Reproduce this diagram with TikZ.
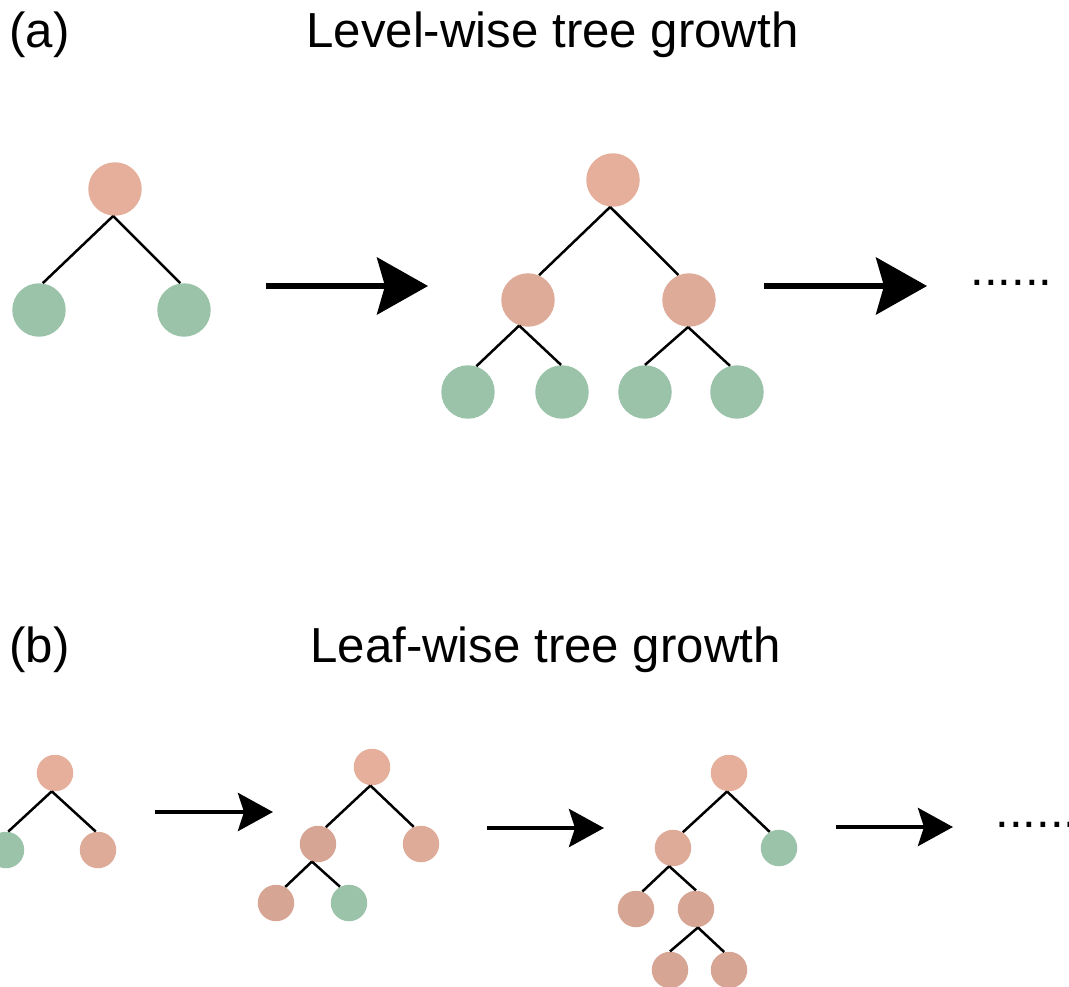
\documentclass[tikz,border=0pt]{standalone}
\usepackage{fontspec}
\setmainfont{Liberation Sans}
\usetikzlibrary{arrows.meta}
\definecolor{rootpink}{HTML}{E5AF9C}
\definecolor{midpink}{HTML}{DFAB99}
\definecolor{deeppink}{HTML}{D7A594}
\definecolor{leafgreen}{HTML}{9BC3AA}
\begin{document}
\begin{tikzpicture}[x=0.02cm, y=-0.02cm,
    big/.style={circle, inner sep=0pt, minimum size=1.07cm},
    small/.style={circle, inner sep=0pt, minimum size=0.73cm},
    edge/.style={line width=0.05cm},
    bigarrow/.style={line width=0.11cm, -{Stealth[length=1.02cm, width=1.14cm, inset=0.16cm]}},
    smallarrow/.style={line width=0.09cm, -{Stealth[length=0.7cm, width=0.76cm, inset=0.12cm]}},
    heading/.style={anchor=base west, inner sep=0pt, font=\fontsize{28}{34}\selectfont}]
    \useasboundingbox (0,0) rectangle (1069,987);

    % (a) level-wise
    \path (9, 48)    node[heading] (ta) {(a)};
    \path (306, 48)  node[heading] (tla) {Level-wise tree growth};

    \path (115, 189) node[big, fill=rootpink]  (u0) {};
    \path (39, 310)  node[big, fill=leafgreen] (u1) {};
    \path (184, 310) node[big, fill=leafgreen] (u2) {};

    \path (613, 180) node[big, fill=rootpink]  (v0) {};
    \path (528, 300) node[big, fill=midpink]   (v1) {};
    \path (689, 300) node[big, fill=midpink]   (v2) {};
    \path (468, 392) node[big, fill=leafgreen] (v3) {};
    \path (562, 392) node[big, fill=leafgreen] (v4) {};
    \path (645, 392) node[big, fill=leafgreen] (v5) {};
    \path (737, 392) node[big, fill=leafgreen] (v6) {};

    \path (970, 285) node[heading] (da) {......};

    \draw[edge] (u0.266) -- (u1.82);
    \draw[edge] (u0.266) -- (u2.98);

    \draw[edge] (v0.264) -- (v1.66);
    \draw[edge] (v0.264) -- (v2.113);
    \draw[edge] (v1.251) -- (v3.72);
    \draw[edge] (v1.251) -- (v4.92);
    \draw[edge] (v2.268) -- (v5.90);
    \draw[edge] (v2.268) -- (v6.105);

    \coordinate (a1s) at (266, 286);
    \coordinate (a1e) at (428, 286);
    \coordinate (a2s) at (764, 286);
    \coordinate (a2e) at (927, 286);
    \draw[bigarrow] (a1s) -- (a1e);
    \draw[bigarrow] (a2s) -- (a2e);

    % (b) leaf-wise
    \path (9, 662)   node[heading] (tb) {(b)};
    \path (310, 662) node[heading] (tlb) {Leaf-wise tree growth};

    \path (55, 773)  node[small, fill=rootpink]  (p0) {};
    \path (6, 850)   node[small, fill=leafgreen] (p1) {};
    \path (98, 850)  node[small, fill=midpink]   (p2) {};

    \path (372, 767) node[small, fill=rootpink]  (q0) {};
    \path (318, 844) node[small, fill=deeppink]  (q1) {};
    \path (421, 844) node[small, fill=midpink]   (q2) {};
    \path (276, 903) node[small, fill=deeppink]  (q3) {};
    \path (349, 903) node[small, fill=leafgreen] (q4) {};

    \path (729, 773) node[small, fill=rootpink]  (s0) {};
    \path (673, 848) node[small, fill=midpink]   (s1) {};
    \path (779, 848) node[small, fill=leafgreen] (s2) {};
    \path (636, 909) node[small, fill=deeppink]  (s3) {};
    \path (696, 909) node[small, fill=deeppink]  (s4) {};
    \path (670, 970) node[small, fill=deeppink]  (s5) {};
    \path (729, 970) node[small, fill=deeppink]  (s6) {};

    \path (995, 827) node[heading] (db) {......};

    \draw[edge] (p0.260) -- (p1.83);
    \draw[edge] (p0.260) -- (p2.97);

    \draw[edge] (q0.265) -- (q1.65);
    \draw[edge] (q0.265) -- (q2.113);
    \draw[edge] (q1.251) -- (q3.60);
    \draw[edge] (q1.251) -- (q4.119);

    \draw[edge] (s0.264) -- (s1.58);
    \draw[edge] (s0.264) -- (s2.120);
    \draw[edge] (s1.258) -- (s3.70);
    \draw[edge] (s1.258) -- (s4.90);
    \draw[edge] (s4.276) -- (s5.90);
    \draw[edge] (s4.276) -- (s6.105);

    \coordinate (b1s) at (155, 812);
    \coordinate (b1e) at (273, 812);
    \coordinate (b2s) at (487, 828);
    \coordinate (b2e) at (604, 828);
    \coordinate (b3s) at (836, 827);
    \coordinate (b3e) at (953, 827);
    \draw[smallarrow] (b1s) -- (b1e);
    \draw[smallarrow] (b2s) -- (b2e);
    \draw[smallarrow] (b3s) -- (b3e);
\end{tikzpicture}
\end{document}
